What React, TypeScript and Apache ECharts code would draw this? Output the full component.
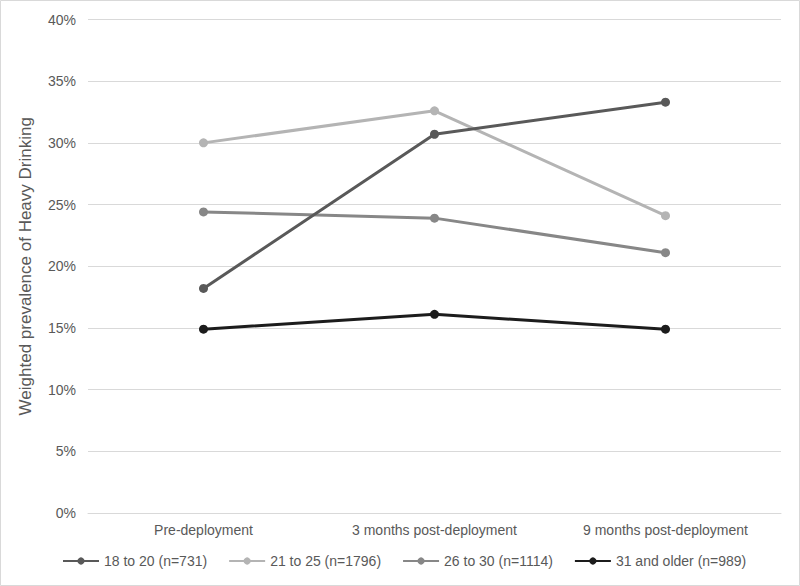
import React, { useEffect, useRef } from "react";
import * as echarts from "echarts";

const categories = ["Pre-deployment", "3 months post-deployment", "9 months post-deployment"];
const seriesNames = ["18 to 20 (n=731)", "21 to 25 (n=1796)", "26 to 30 (n=1114)", "31 and older (n=989)"];
const age18to20 = [18.2, 30.7, 33.3];
const age21to25 = [30.0, 32.6, 24.1];
const age26to30 = [24.4, 23.9, 21.1];
const age31plus = [14.9, 16.1, 14.9];
const colors = ["#595959", "#b4b4b4", "#878787", "#1c1c1c"];
const yTicks = [0, 5, 10, 15, 20, 25, 30, 35, 40];

export default function App() {
  const ref = useRef<HTMLDivElement>(null);
  useEffect(() => {
    if (!ref.current) return;
    const chart = echarts.init(ref.current, null, { renderer: "svg" });
    const data = [age18to20, age21to25, age26to30, age31plus];
    const font = "Liberation Sans, Arial, sans-serif";
    chart.setOption({
      animation: false,
      backgroundColor: "#ffffff",
      textStyle: { fontFamily: font },
      grid: { left: 88, right: 19, top: 19.5, bottom: 73 },
      graphic: [
        {
          type: "rect",
          shape: { x: 0.5, y: 0.5, width: 799, height: 585 },
          style: { fill: "none", stroke: "#d9d9d9", lineWidth: 1 },
          silent: true,
        },
      ],
      legend: {
        bottom: 13,
        left: 57,
        itemWidth: 36,
        itemHeight: 9,
        itemGap: 21,
        textStyle: { color: "#595959", fontSize: 14, fontFamily: font },
        data: seriesNames,
      },
      xAxis: {
        type: "category",
        data: categories,
        boundaryGap: true,
        axisLine: { show: true, lineStyle: { color: "#d9d9d9" } },
        axisTick: { show: false },
        axisLabel: { color: "#595959", fontSize: 14, margin: 10, fontFamily: font },
      },
      yAxis: {
        type: "value",
        min: 0,
        max: 40,
        interval: 5,
        name: "Weighted prevalence of Heavy Drinking",
        nameLocation: "middle",
        nameGap: 54,
        nameTextStyle: { color: "#595959", fontSize: 17, fontFamily: font },
        axisLine: { show: false },
        axisTick: { show: false },
        axisLabel: {
          color: "#595959",
          fontSize: 14,
          margin: 12,
          fontFamily: font,
          formatter: (v: number) => (yTicks.includes(v) ? v + "%" : ""),
        },
        splitLine: { lineStyle: { color: "#d9d9d9", width: 1 } },
      },
      series: seriesNames.map((name, i) => ({
        name,
        type: "line",
        data: data[i],
        color: colors[i],
        symbol: "circle",
        symbolSize: 9,
        lineStyle: { width: 3, color: colors[i] },
        itemStyle: { color: colors[i] },
        z: 10 - i,
      })),
    });
    return () => chart.dispose();
  }, []);
  return (
    <div
      ref={ref}
      style={{ position: "fixed", left: 0, top: 0, width: 800, height: 586 }}
    />
  );
}
